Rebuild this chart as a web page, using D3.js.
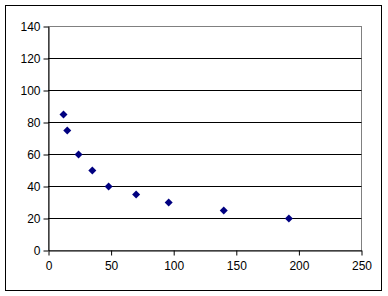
<!DOCTYPE html>
<html>
<head>
<meta charset="utf-8">
<script src="https://cdn.jsdelivr.net/npm/d3@7"></script>
<style>
  body { margin: 0; background: #fff; }
  svg { display: block; font-family: "Liberation Sans", Arial, sans-serif; }
</style>
</head>
<body>
<div id="chart"></div>
<script>
const xValues = [12, 15, 24, 35, 48, 70, 96, 140, 192];
const yValues = [85, 75, 60, 50, 40, 35, 30, 25, 20];
const xTicks = [0, 50, 100, 150, 200, 250];
const yTicks = [0, 20, 40, 60, 80, 100, 120, 140];

const width = 388, height = 296;
const plotLeft = 48, plotRight = 361, plotTop = 26, plotBottom = 250;

const svg = d3.select("#chart").append("svg")
  .attr("width", width)
  .attr("height", height);

// outer chart border
svg.append("rect")
  .attr("x", 5.5).attr("y", 5.5)
  .attr("width", 376).attr("height", 285)
  .attr("fill", "#fff")
  .attr("stroke", "#000");

const x = d3.scaleLinear().domain([0, 250]).range([plotLeft, plotRight]);
const y = d3.scaleLinear().domain([0, 140]).range([plotBottom, plotTop]);

// plot area frame
svg.append("rect")
  .attr("x", plotLeft + 0.5).attr("y", plotTop + 0.5)
  .attr("width", plotRight - plotLeft).attr("height", plotBottom - plotTop)
  .attr("fill", "none")
  .attr("stroke", "#808080");

// gridlines
svg.append("g")
  .selectAll("line")
  .data(yTicks.filter(d => d > 0 && d < 140))
  .join("line")
  .attr("x1", plotLeft).attr("x2", plotRight + 0.5)
  .attr("y1", d => Math.round(y(d)) + 0.5)
  .attr("y2", d => Math.round(y(d)) + 0.5)
  .attr("stroke", "#000");

// axes
const yAxis = svg.append("g")
  .attr("transform", `translate(${plotLeft + 0.5},0.5)`)
  .call(d3.axisLeft(y).tickValues(yTicks).tickSize(5).tickSizeOuter(0).tickPadding(3));

const xAxis = svg.append("g")
  .attr("transform", `translate(0.5,${plotBottom + 0.5})`)
  .call(d3.axisBottom(x).tickValues(xTicks).tickSize(5).tickSizeOuter(0).tickPadding(6));

[xAxis, yAxis].forEach(a => {
  a.select(".domain").attr("stroke", "#000");
  a.selectAll(".tick line").attr("stroke", "#000");
  a.selectAll("text")
    .attr("fill", "#000")
    .style("font-size", "12px")
    .style("font-family", "'Liberation Sans', Arial, sans-serif");
});

// points
const pts = xValues.map((v, i) => ({ x: v, y: yValues[i] }));
svg.append("g")
  .selectAll("path")
  .data(pts)
  .join("path")
  .attr("transform", d => `translate(${x(d.x) + 0.5},${y(d.y) + 0.5})`)
  .attr("d", "M0,-4L4,0L0,4L-4,0Z")
  .attr("fill", "#000080");
</script>
</body>
</html>
